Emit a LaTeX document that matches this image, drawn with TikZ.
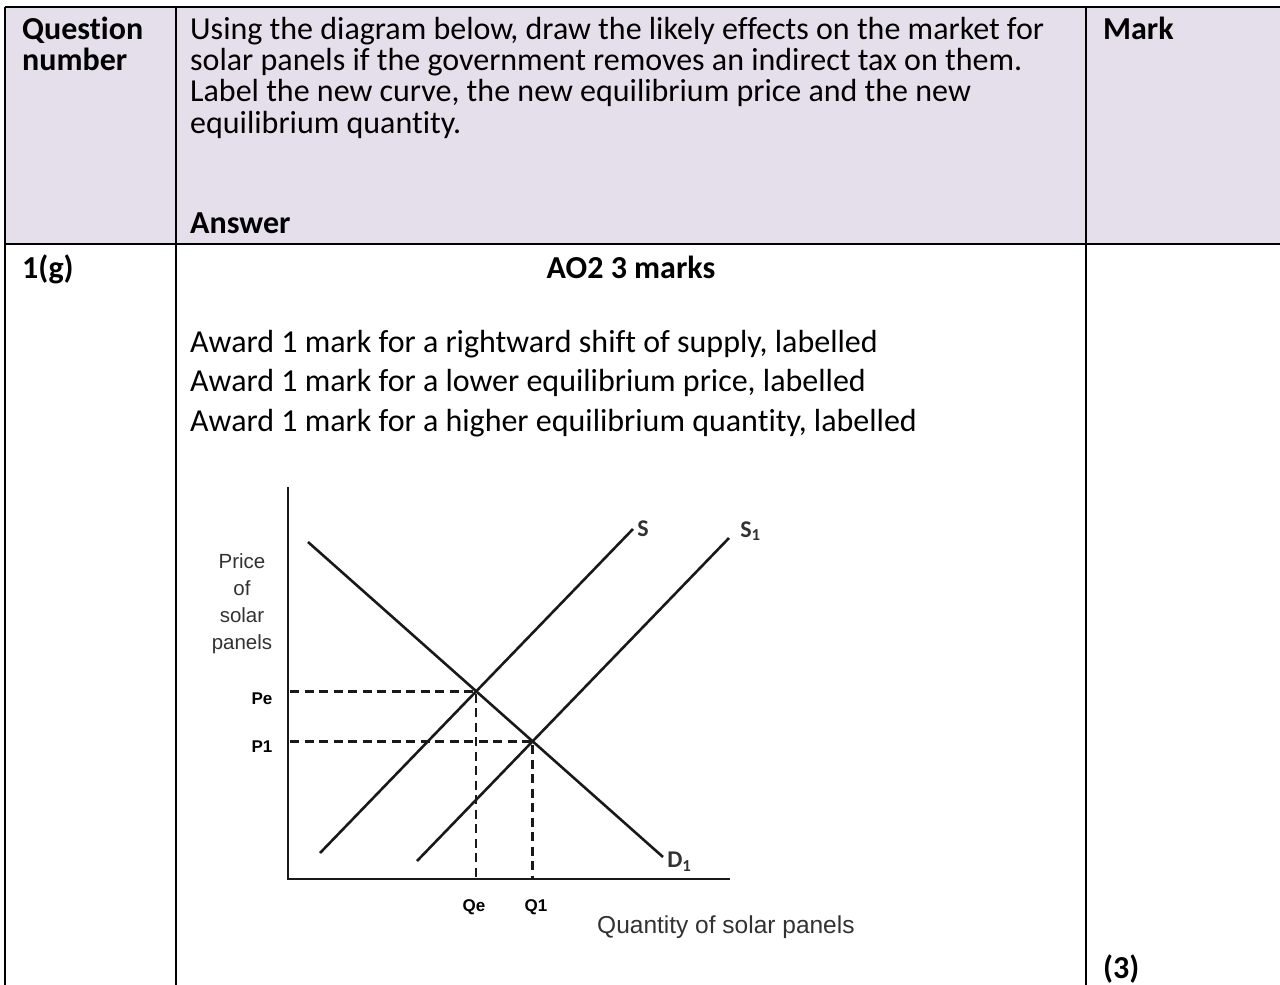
\documentclass[tikz,border=0pt]{standalone}
\usepackage{fontspec}
\setmainfont{Carlito}[Ligatures=NoCommon]
\newfontfamily\chartfont{Liberation Sans}
\usetikzlibrary{positioning}
\definecolor{headfill}{RGB}{229,223,236}
\definecolor{chartgrey}{RGB}{50,50,50}

\begin{document}
\begin{tikzpicture}[x=1pt, y=-1pt,
            txt/.style={anchor=base west, inner sep=0pt, text height=22pt, text depth=9pt,
                        font=\fontsize{32}{31}\selectfont},
            hd/.style={txt, font=\fontsize{32}{31}\selectfont\bfseries},
            rule/.style={line width=2.6pt, black},
            axis/.style={line width=2.8pt, black!90},
            curve/.style={line width=2.6pt, black!90},
            guide/.style={line width=2.5pt, black!90, dash pattern=on 9pt off 5.5pt},
            axlbl/.style={inner sep=0pt, text=chartgrey, align=center,
                          font=\chartfont\fontsize{20.5}{27}\selectfont},
            tick/.style={inner sep=0pt, font=\chartfont\bfseries\fontsize{17}{17}\selectfont},
            crv/.style={inner sep=0pt, anchor=west, text=chartgrey,
                        font=\fontsize{24}{24}\selectfont\bfseries}]
  \useasboundingbox (0,0) rectangle (1280,985);

  % table
  \fill[headfill] (5,7) rectangle (1280,244);
  \draw[rule] (5,7) -- (1280,7);
  \draw[rule] (5,244) -- (1280,244);
  \draw[rule] (5,7) -- (5,985);
  \draw[rule] (176,7) -- (176,985);
  \draw[rule] (1086,7) -- (1086,985);

  % header row
  \node[hd] (qn1) at (22,39) {Question};
  \node[hd, below=0pt of qn1.south west, anchor=north west] (qn2) {number};
  \node[txt] (q1) at (190,39) {Using the diagram below, draw the likely effects on the market for};
  \node[txt, below=0pt of q1.south west, anchor=north west] (q2) {solar panels if the government removes an indirect tax on them.};
  \node[txt, below=0pt of q2.south west, anchor=north west] (q3) {Label the new curve, the new equilibrium price and the new};
  \node[txt, below=0pt of q3.south west, anchor=north west] (q4) {equilibrium quantity.};
  \node[hd] (ans) at (190,233) {Answer};
  \node[hd] (mark) at (1103,39) {Mark};

  % answer row
  \node[hd] (num) at (22,278) {1(g)};
  \node[hd, anchor=base] (ao) at (631,278) {AO2 3 marks};
  \node[txt] (aw1) at (190,352) {Award 1 mark for a rightward shift of supply, labelled};
  \node[txt, below=8.5pt of aw1.south west, anchor=north west] (aw2) {Award 1 mark for a lower equilibrium price, labelled};
  \node[txt, below=8.5pt of aw2.south west, anchor=north west] (aw3) {Award 1 mark for a higher equilibrium quantity, labelled};
  \node[hd] (tot) at (1103,978) {(3)};

  % diagram
  \coordinate (O) at (288,879);
  \coordinate (E) at (476.2,691.3);
  \coordinate (E1) at (532.6,741.3);
  \draw[axis] (288,487) -- (O) -- (730,879);
  \draw[curve] (308,542) -- (663,857) node[crv, xshift=3pt, yshift=-5pt] (dlab) {D\textsubscript{1}};
  \draw[curve] (320,853) -- (633,529) node[crv, xshift=3pt] (slab) {S};
  \draw[curve] (417,861) -- (729,538) node[crv, xshift=10pt, yshift=7pt] (s1lab) {S\textsubscript{1}};
  \draw[guide] (290,691.3) -- (E) -- (476.2,879);
  \draw[guide] (290,741.3) -- (E1) -- (532.6,879);

  \node[axlbl] (plbl) at (242,604) {Price\\of\\solar\\panels};
  \node[tick] (pe) at (262,699) {Pe};
  \node[tick] (p1) at (262,747) {P1};
  \node[tick] (qe) at (474,907) {Qe};
  \node[tick] (q1t) at (536,907) {Q1};
  \node[axlbl, anchor=base west, font=\chartfont\fontsize{24.5}{27}\selectfont] (qlbl) at (597,933) {Quantity of solar panels};
\end{tikzpicture}
\end{document}
